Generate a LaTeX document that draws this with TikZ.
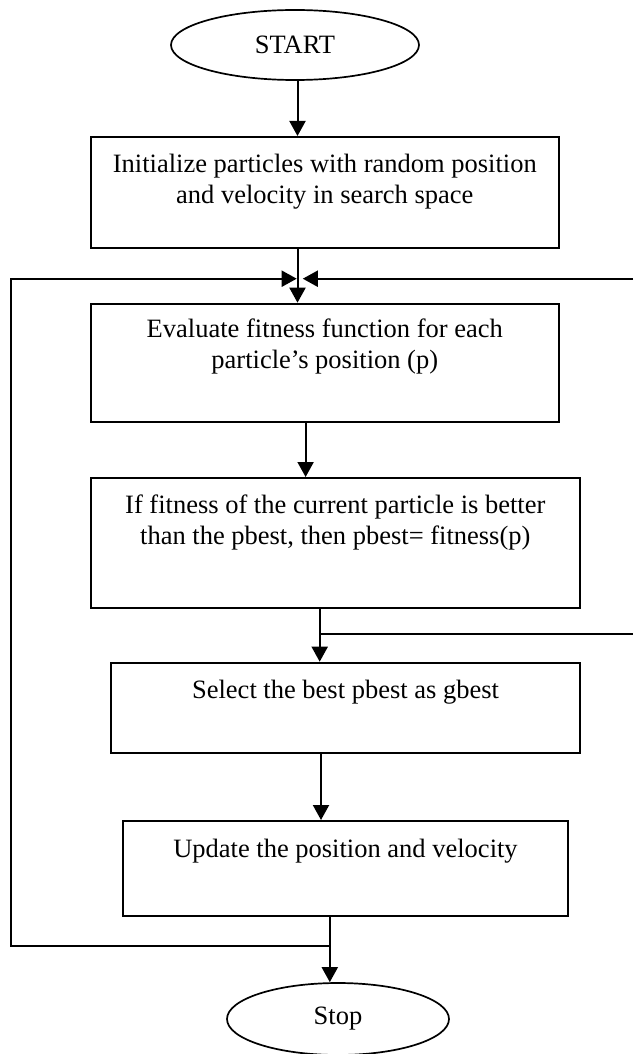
\documentclass[tikz,border=0pt]{standalone}
\usepackage{fontspec}
\setmainfont{Liberation Serif}
\usetikzlibrary{shapes.geometric,arrows.meta}
\newcommand\bxt[4]{\parbox[t][#2][t]{#1}{\centering\fontsize{26.5}{31}\selectfont\rule{0pt}{#3}#4}}
\begin{document}
\begin{tikzpicture}[x=1pt,y=-1pt,
  ln/.style={line width=2pt},
  arr/.style={ln,-{Triangle[length=15pt,width=16pt]}},
  term/.style={draw,line width=1.7pt,ellipse,inner sep=0pt,font=\fontsize{26.5}{31}\selectfont},
  stepbox/.style={draw,ln,rectangle,inner sep=0pt,anchor=north west}]
\useasboundingbox (0,0) rectangle (633,1054);
% nodes
\node[term,minimum width=248pt,minimum height=70pt] (start) at (295,45) {START};
\node[stepbox] (b1) at (89.6,136) {\bxt{468.4pt}{110.7pt}{35pt}{Initialize particles with random position\\and velocity in search space}};
\node[stepbox] (b2) at (89.6,302.7) {\bxt{468.4pt}{118.3pt}{33.5pt}{Evaluate fitness function for each\\particle’s position (p)}};
\node[stepbox] (b3) at (89.6,477) {\bxt{489.4pt}{129.5pt}{35pt}{If fitness of the current particle is better\\than the pbest, then pbest= fitness(p)}};
\node[stepbox] (b4) at (109.8,661.7) {\bxt{469.5pt}{90pt}{35.6pt}{Select the best pbest as gbest}};
\node[stepbox] (b5) at (122,820) {\bxt{445pt}{94.7pt}{36.7pt}{Update the position and velocity}};
\node[term,minimum width=222pt,minimum height=72pt] (stop) at (338,1019) {Stop};
% guide coordinates
\coordinate (j1) at (297.5,278.7);
\coordinate (x23) at (305.6,0);
\coordinate (jR) at (319.7,634.3);
\coordinate (x45) at (321,0);
\coordinate (jL) at (329.8,946);
\coordinate (cL1) at (10.9,946);
\coordinate (cL2) at (10.9,278.7);
\coordinate (eR1) at (633,634.3);
\coordinate (eR2) at (633,278.7);
\coordinate (tipL) at (296.7,278.7);
\coordinate (tipR) at (302.8,278.7);
% connectors
\draw[arr] (start.south -| j1) -- (b1.north -| j1);
\draw[arr] (b1.south -| j1) -- (b2.north -| j1);
\draw[arr] (b2.south -| x23) -- (b3.north -| x23);
\draw[arr] (b3.south -| jR) -- (b4.north -| jR);
\draw[arr] (b4.south -| x45) -- (b5.north -| x45);
\draw[arr] (b5.south -| jL) -- (jL |- stop.north);
\draw[ln] (jR) -- (eR1);
\draw[arr] (jL) -- (cL1) -- (cL2) -- (tipL);
\draw[arr] (eR2) -- (tipR);
\end{tikzpicture}
\end{document}
